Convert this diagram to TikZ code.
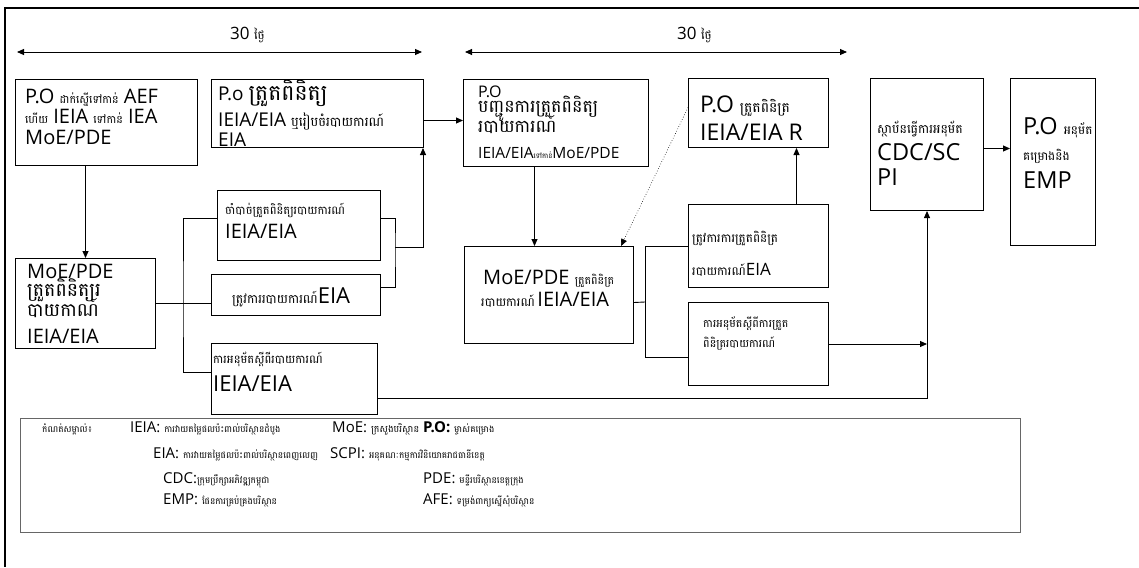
\documentclass[tikz,border=0pt]{standalone}
\usepackage{fontspec}
\setmainfont{Open Sans}
\newfontfamily\kh[Script=Khmer]{Battambang}
\usetikzlibrary{arrows.meta}
% Khmer run at a given size, Latin size switch
\newcommand\kx[2]{{\kh\fontsize{#1}{#1}\selectfont #2}}
\newcommand\lat[1]{\fontsize{#1}{#1}\selectfont}

\begin{document}
\begin{tikzpicture}[x=1pt,y=-1pt,
  box/.style={draw=black, line width=1pt, anchor=north west, inner sep=0pt, fill=white},
  keybox/.style={draw=black!60, line width=0.8pt, anchor=north west, inner sep=0pt},
  txt/.style={anchor=base west, inner sep=0pt},
  link/.style={draw=black, line width=0.9pt},
  arr/.style={link, -{Triangle[length=7pt,width=6pt]}},
  span/.style={link, {Triangle[length=7pt,width=6pt]}-{Triangle[length=7pt,width=6pt]}},
  hint/.style={draw=black, line width=0.6pt, dotted, -{Triangle[length=7pt,width=6pt]}}]

\useasboundingbox (0,0) rectangle (1139,567);
\fill[white] (0,0) rectangle (1139,567);
\draw[line width=1.4pt] (1139,8) -- (5,8) -- (5,567);

% ---------- boxes ----------
\node[box, minimum width=182pt, minimum height=86pt] (b1) at (15,79) {};
\node[box, minimum width=212pt, minimum height=68pt] (b2) at (211,79) {};
\node[box, minimum width=185pt, minimum height=87pt] (b3) at (463,79) {};
\node[box, minimum width=140pt, minimum height=69pt] (b4) at (688,78) {};
\node[box, minimum width=113pt, minimum height=132pt] (b12) at (870,78) {};
\node[box, minimum width=85pt, minimum height=167pt] (b13) at (1010,78) {};
\node[box, minimum width=140pt, minimum height=90pt] (b5) at (15,258) {};
\node[box, minimum width=163pt, minimum height=70pt] (b6) at (217,190) {};
\node[box, minimum width=169pt, minimum height=41pt] (b7) at (211,274) {};
\node[box, minimum width=166pt, minimum height=71pt] (b8) at (211,343) {};
\node[box, minimum width=169pt, minimum height=97pt] (b9) at (464,246) {};
\node[box, minimum width=140pt, minimum height=83pt] (b10) at (688,204) {};
\node[box, minimum width=140pt, minimum height=83pt] (b11) at (688,302) {};
\node[keybox, minimum width=1000pt, minimum height=114pt] (key) at (20,418) {};

% ---------- period spans ----------
\coordinate (s1) at (17,52);  \coordinate (s2) at (422,52);
\coordinate (s3) at (465,52); \coordinate (s4) at (847,52);
\draw[span] (s1) -- (s2);
\draw[span] (s3) -- (s4);
\node[txt] (d1) at (230,40) {\lat{17}30 \kx{12}{ថ្ងៃ}};
\node[txt] (d2) at (677,40) {\lat{17}30 \kx{12}{ថ្ងៃ}};

% ---------- connectors ----------
\coordinate (p1) at ([xshift=-21pt]b1.south);
\draw[arr] (p1) -- (p1 |- b5.north);

\coordinate (p2) at ([yshift=-7pt]b2.east);
\draw[arr] (p2) -- (p2 -| b3.west);

\coordinate (j1) at (183,303);
\draw[link] (b5.east) -- (b5.east -| b7.west);
\coordinate (q6) at ([yshift=7pt]b6.west);
\coordinate (q8) at ([yshift=6.5pt]b8.west);
\draw[link] (q6) -| (j1) |- (q8);

\coordinate (j2) at (395,247);
\coordinate (r6) at ([yshift=7pt]b6.east);
\coordinate (r7) at ([yshift=7.5pt]b7.east);
\draw[link] (r6) -| (j2) |- (r7);
\coordinate (p3) at ([xshift=-1pt]b2.south east);
\draw[arr] (j2) -| (p3);

\coordinate (p4) at ([yshift=-19.5pt]b8.east);
\draw[arr] (p4) -| (b12.south);

\coordinate (p5) at ([xshift=-21.5pt]b3.south);
\draw[arr] (p5) -- (p5 |- b9.north);

\draw[hint] ([yshift=5.5pt]b4.west) -- ([xshift=-13pt]b9.north east);

\coordinate (j3) at (645,302);
\draw[link] ([yshift=-7.5pt]b9.east) -- (j3);
\draw[link] (b10.west) -| (j3) |- ([yshift=-13.5pt]b11.west);

\coordinate (p6) at ([xshift=38pt]b10.north);
\draw[arr] (p6) -- (p6 |- b4.south);

\draw[arr] (b11.east) -- (b11.east -| b12.south);

\coordinate (p7) at ([yshift=-4pt]b12.east);
\draw[arr] (p7) -- (p7 -| b13.west);

% ---------- box texts ----------
\node[txt] (t1a) at (25,103) {\lat{20}P.O \kx{11}{ដាក់ស្នើទៅកាន់} AEF};
\node[txt] (t1b) at (25,123) {\lat{20}\kx{11}{ហើយ} IEIA \kx{11}{ទៅកាន់} IEA};
\node[txt] (t1c) at (25,144) {\lat{20}MoE/PDE};

\node[txt] (t2a) at (218,101) {\lat{19}P.o \kx{22}{ត្រួតពិនិត្យ}};
\node[txt] (t2b) at (218,127) {\lat{19}IEIA/EIA \kx{13}{ឬរៀបចំរបាយការណ៍}};
\node[txt] (t2c) at (218,146) {\lat{19}EIA};

\node[txt] (t3a) at (478,98) {\lat{16}P.O};
\node[txt] (t3b) at (478,113) {\kx{17.5}{បញ្ជូនការត្រួតពិនិត្យ}};
\node[txt] (t3c) at (478,132) {\kx{17.5}{របាយការណ៍}};
\node[txt] (t3d) at (478,158) {\lat{15.5}IEIA/EIA\kx{7}{ទៅកាន់}MoE/PDE};

\node[txt] (t4a) at (700,113) {\lat{23}P.O \kx{14}{ត្រួតពិនិត្រ}};
\node[txt] (t4b) at (700,140) {\lat{23}IEIA/EIA R};

\node[txt] (t12a) at (877,133) {\kx{12.5}{ស្ថាប័នធ្វើការអនុម័ត}};
\node[txt] (t12b) at (877,160) {\lat{23.5}CDC/SC};
\node[txt] (t12c) at (877,185) {\lat{23.5}PI};

\node[txt] (t13a) at (1023,135) {\lat{23.5}P.O \kx{12}{អនុម័ត}};
\node[txt] (t13b) at (1023,160) {\kx{12}{គម្រោងនិង}};
\node[txt] (t13c) at (1023,188) {\lat{23.5}EMP};

\node[txt] (t5a) at (27,278) {\lat{20}MoE/PDE};
\node[txt] (t5b) at (27,296) {\kx{19}{ត្រួតពិនិត្យរ}};
\node[txt] (t5c) at (27,316) {\kx{18.5}{បាយកាណ៍}};
\node[txt] (t5d) at (27,343) {\lat{20}IEIA/EIA};

\node[txt] (t6a) at (225,214) {\kx{11.5}{ចាំបាច់ត្រួតពិនិត្យរបាយការណ៍}};
\node[txt] (t6b) at (225,238) {\lat{20}IEIA/EIA};

\node[txt] (t7) at (232,303) {\kx{12.5}{ត្រូវការរបាយការណ៍}\lat{22}EIA};

\node[txt] (t8a) at (213,363) {\kx{11.5}{ការអនុម័តស្តីពីរបាយការណ៍}};
\node[txt] (t8b) at (213,391) {\lat{22}IEIA/EIA};

\node[txt] (t9a) at (483,284) {\lat{20}MoE/PDE \kx{11}{ត្រួតពិនិត្រ}};
\node[txt] (t9b) at (481,306) {\kx{12}{របាយការណ៍} \lat{20}IEIA/EIA};

\node[txt] (t10a) at (692,242) {\kx{12}{ត្រូវការការត្រួតពិនិត្រ}};
\node[txt] (t10b) at (692,275) {\kx{12}{របាយការណ៍}\lat{17}EIA};

\node[txt] (t11a) at (703,327) {\kx{11}{ការអនុម័តស្តីពីការត្រួត}};
\node[txt] (t11b) at (703,347) {\kx{11}{ពិនិត្ររបាយការណ៍}};

% ---------- key ----------
\node[txt] (k0) at (42,432) {\kx{9}{កំណត់សម្គាល់៖}};
\node[txt] (k1) at (130,432) {\lat{15}IEIA: \kx{9}{ការវាយតម្លៃផលប៉ះពាល់បរិស្ថានដំបូង}};
\node[txt] (k2) at (332,432) {\lat{15}MoE: \kx{9.5}{ក្រសួងបរិស្ថាន} \textbf{P.O:} \kx{9}{ម្ចាស់គម្រោង}};
\node[txt] (k3) at (153,458) {\lat{15}EIA: \kx{9}{ការវាយតម្លៃផលប៉ះពាល់បរិស្ថានពេញលេញ}};
\node[txt] (k4) at (330,458) {\lat{15}SCPI: \kx{9}{អនុគណៈកម្មការវិនិយោគរាជធានីខេត្ត}};
\node[txt] (k5) at (163,483) {\lat{15}CDC:\kx{9}{ក្រុមប្រឹក្សាអភិវឌ្ឍកម្ពុជា}};
\node[txt] (k6) at (423,483) {\lat{15}PDE: \kx{9}{មន្ទីរបរិស្ថានខេត្តក្រុង}};
\node[txt] (k7) at (163,504) {\lat{15}EMP: \kx{9}{ផែនការគ្រប់គ្រងបរិស្ថាន}};
\node[txt] (k8) at (423,504) {\lat{15}AFE: \kx{9}{ទម្រង់ពាក្យស្នើសុំបរិស្ថាន}};
\end{tikzpicture}
\end{document}
